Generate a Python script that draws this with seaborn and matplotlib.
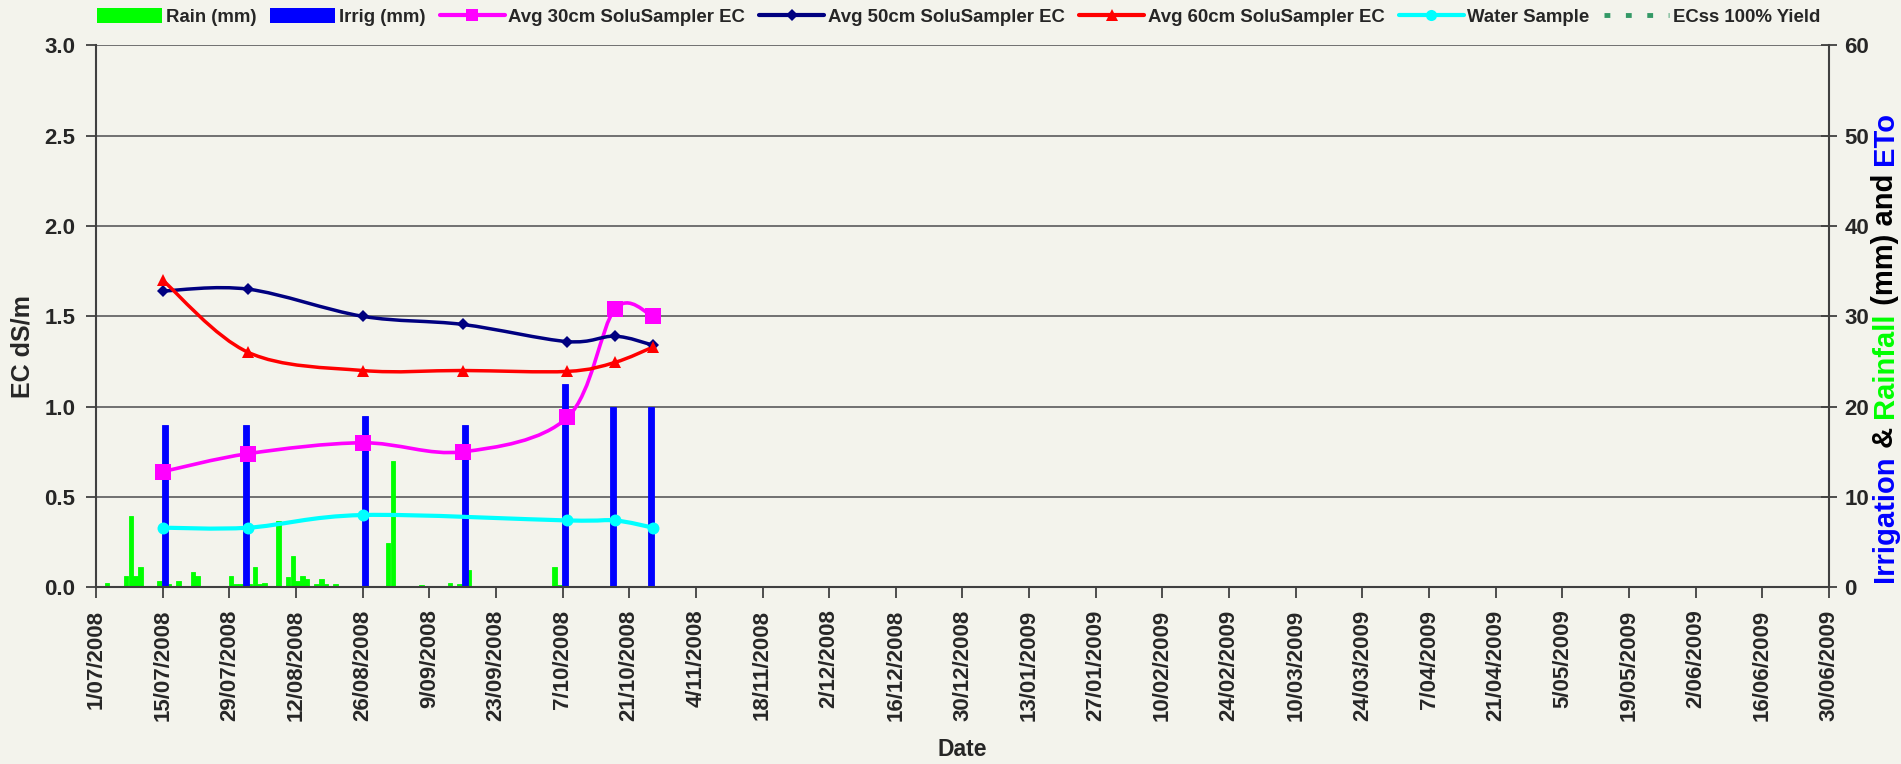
import matplotlib
matplotlib.use('Agg')
import matplotlib.pyplot as plt
import matplotlib.dates as mdates
import matplotlib.ticker as mticker
from matplotlib.path import Path
from matplotlib.patches import PathPatch, Patch
from matplotlib.lines import Line2D
import numpy as np
import pandas as pd
import seaborn as sns

sns.set_theme(style='white')
plt.rcParams.update({
    'font.family': ['Liberation Sans', 'DejaVu Sans'],
    'font.weight': 'bold',
    'axes.labelweight': 'bold',
    'figure.dpi': 100,
})

BG = '#F3F3EC'

# soil solution samples (EC dS/m)
sample_dates = ['2008-07-15', '2008-08-02', '2008-08-26', '2008-09-16',
                '2008-10-08', '2008-10-18', '2008-10-26']
ec_30cm = [0.64, 0.74, 0.80, 0.75, 0.94, 1.54, 1.50]
ec_50cm = [1.64, 1.65, 1.50, 1.455, 1.36, 1.39, 1.34]
ec_60cm = [1.70, 1.30, 1.20, 1.20, 1.195, 1.245, 1.33]

water_dates = ['2008-07-15', '2008-08-02', '2008-08-26',
               '2008-10-08', '2008-10-18', '2008-10-26']
water_ec = [0.33, 0.33, 0.40, 0.37, 0.37, 0.33]

# irrigation and rain (mm)
irrig_dates = ['2008-07-15', '2008-08-01', '2008-08-26', '2008-09-16',
               '2008-10-07', '2008-10-17', '2008-10-25']
irrig_mm = [18, 18, 19, 18, 22.5, 20, 20]

rain_dates = ['2008-07-03', '2008-07-07', '2008-07-08', '2008-07-09', '2008-07-10',
              '2008-07-14', '2008-07-16', '2008-07-18', '2008-07-21', '2008-07-22',
              '2008-07-29', '2008-07-30', '2008-07-31', '2008-08-02', '2008-08-03',
              '2008-08-04', '2008-08-05', '2008-08-08', '2008-08-10', '2008-08-11',
              '2008-08-12', '2008-08-13', '2008-08-14', '2008-08-16', '2008-08-17',
              '2008-08-18', '2008-08-20', '2008-08-31', '2008-09-01', '2008-09-07',
              '2008-09-13', '2008-09-15', '2008-09-17', '2008-10-05', '2008-10-06']
rain_mm = [0.5, 1.3, 7.9, 1.2, 2.3,
           0.7, 0.4, 0.7, 1.7, 1.3,
           1.3, 0.4, 0.4, 0.4, 2.3,
           0.4, 0.5, 7.3, 1.1, 3.5,
           0.7, 1.3, 0.9, 0.4, 0.9,
           0.4, 0.4, 4.9, 14.0, 0.3,
           0.5, 0.4, 1.9, 2.3, 0.3]

x_start, x_end = '2008-07-01', '2009-06-30'


def num(dates):
    return mdates.date2num(pd.to_datetime(dates))


def smooth_path(x, y):
    # excel style smoothed line (bezier through the points)
    x = np.asarray(x, float)
    y = np.asarray(y, float)
    px = np.r_[x[0], x, x[-1]]
    py = np.r_[y[0], y, y[-1]]
    verts = [(x[0], y[0])]
    codes = [Path.MOVETO]
    for i in range(1, len(px) - 2):
        c1 = (px[i] + (px[i + 1] - px[i - 1]) / 6, py[i] + (py[i + 1] - py[i - 1]) / 6)
        c2 = (px[i + 1] - (px[i + 2] - px[i]) / 6, py[i + 1] - (py[i + 2] - py[i]) / 6)
        verts += [c1, c2, (px[i + 1], py[i + 1])]
        codes += [Path.CURVE4] * 3
    return Path(verts, codes)


fig = plt.figure(figsize=(19.01, 7.64), facecolor=BG)
rect = [96 / 1901, (764 - 587.3) / 764, 1733 / 1901, 542 / 764]
ax = fig.add_axes(rect)
ax2 = ax.twinx()
ax.set_zorder(ax2.get_zorder() + 1)
ax.patch.set_visible(False)
ax2.patch.set_visible(False)

# bars on the right axis
ax2.bar(num(rain_dates) + 0.35, rain_mm, width=0.95, color='#00FF00',
        edgecolor='#00FF00', linewidth=0.6, zorder=2)
ax2.bar(num(irrig_dates) + 0.5, irrig_mm, width=1.25, color='#0000FF',
        edgecolor='#0000FF', linewidth=0.6, zorder=3)

# EC lines on the left axis
series = [
    (sample_dates, ec_30cm, '#FF00FF', 's', 11.3, 2.6),
    (sample_dates, ec_50cm, '#000080', 'D', 6.2, 2.5),
    (sample_dates, ec_60cm, '#FF0000', '^', 8.5, 2.5),
    (water_dates, water_ec, '#00FFFF', 'o', 8.6, 3.0),
]
for d, v, color, mk, ms, lw in series:
    xs = num(d)
    ax.add_patch(PathPatch(smooth_path(xs, v), fill=False, edgecolor=color,
                           lw=lw, zorder=3, capstyle='round', joinstyle='round'))
    sns.lineplot(x=xs, y=v, ax=ax, color=color, marker=mk, markersize=ms,
                 linestyle='none', markeredgewidth=0, zorder=4, legend=False)

# axes
ax.set_xlim(num([x_start])[0], num([x_end])[0])
ax.set_ylim(0, 3)
ax2.set_ylim(0, 60)
ax.set_xticks(num(pd.date_range(x_start, x_end, freq='14D')))
ax.xaxis.set_major_formatter(mticker.FuncFormatter(
    lambda v, p: (lambda d: f'{d.day}/{d.month:02d}/{d.year}')(mdates.num2date(v))))
ax.set_yticks(np.arange(0, 3.01, 0.5))
ax.yaxis.set_major_formatter(mticker.FormatStrFormatter('%.1f'))
ax2.set_yticks(np.arange(0, 61, 10))
ax.set_xlabel('')
ax.set_ylabel('')

ax2.grid(True, axis='y', color='#666666', linewidth=1.3)
ax2.set_axisbelow(True)
ax.grid(False)

spine_c = '#404040'
for s in ['top', 'right']:
    ax.spines[s].set_visible(False)
for s in ['top', 'left', 'bottom']:
    ax2.spines[s].set_visible(False)
for sp in [ax.spines['left'], ax.spines['bottom'], ax2.spines['right']]:
    sp.set_color(spine_c)
    sp.set_linewidth(1.5)

ax.tick_params(axis='x', direction='out', length=8, width=1.3, color=spine_c,
               pad=8, labelsize=16, rotation=90, bottom=True)
ax.tick_params(axis='y', direction='out', length=7, width=1.3, color=spine_c,
               pad=8, labelsize=16, left=True)
ax2.tick_params(axis='y', direction='inout', length=12, width=1.3, color=spine_c,
                pad=5, labelsize=16, right=True)

# titles
fig.text(22 / 1901, 1 - 347 / 764, 'EC dS/m', rotation=90, ha='center', va='center',
         fontsize=18, fontweight='bold')
fig.text(962 / 1901, 1 - 750 / 764, 'Date', ha='center', va='center',
         fontsize=16.5, fontweight='bold')

renderer = fig.canvas.get_renderer()


def text_width(s, **kw):
    t = fig.text(0, 0, s + '|', **kw)
    w = t.get_window_extent(renderer).width
    t.set_text('|')
    w -= t.get_window_extent(renderer).width
    t.remove()
    return w


# right axis title in three colours
pieces = [('Irrigation', '#0000FF'), (' & ', 'black'), ('Rainfall', '#00FF00'),
          (' (mm) and ', 'black'), ('ETo', '#0000FF')]
rkw = dict(fontsize=21, fontweight='bold')
x_base, y_base = 1893, 764 - 582
prefix = ''
for txt, c in pieces:
    off = text_width(prefix, **rkw) if prefix else 0
    fig.text(x_base / 1901, (y_base + off) / 764, txt, color=c, rotation=90,
             rotation_mode='anchor', ha='left', va='baseline', **rkw)
    prefix += txt

# legend
handles = [
    Patch(facecolor='#00FF00', edgecolor='none'),
    Patch(facecolor='#0000FF', edgecolor='none'),
    Line2D([], [], color='#FF00FF', lw=3, marker='s', ms=9, mew=0),
    Line2D([], [], color='#000080', lw=3, marker='D', ms=6, mew=0),
    Line2D([], [], color='#FF0000', lw=3, marker='^', ms=8, mew=0),
    Line2D([], [], color='#00FFFF', lw=3, marker='o', ms=8, mew=0),
    Line2D([], [], color='#339966', lw=3.5, linestyle=(0, (1.2, 3.2))),
]
labels = ['Rain (mm)', 'Irrig (mm)', 'Avg 30cm SoluSampler EC', 'Avg 50cm SoluSampler EC',
          'Avg 60cm SoluSampler EC', 'Water Sample', 'ECss 100% Yield']
fig.legend(handles, labels, loc='center left', bbox_to_anchor=(97 / 1901, 1 - 17 / 764),
           ncol=7, frameon=False, fontsize=13.4, handlelength=3.5, handleheight=0.85,
           handletextpad=0.2, columnspacing=0.75, borderpad=0, borderaxespad=0)

plt.savefig('out.png', dpi=100, facecolor=BG)
